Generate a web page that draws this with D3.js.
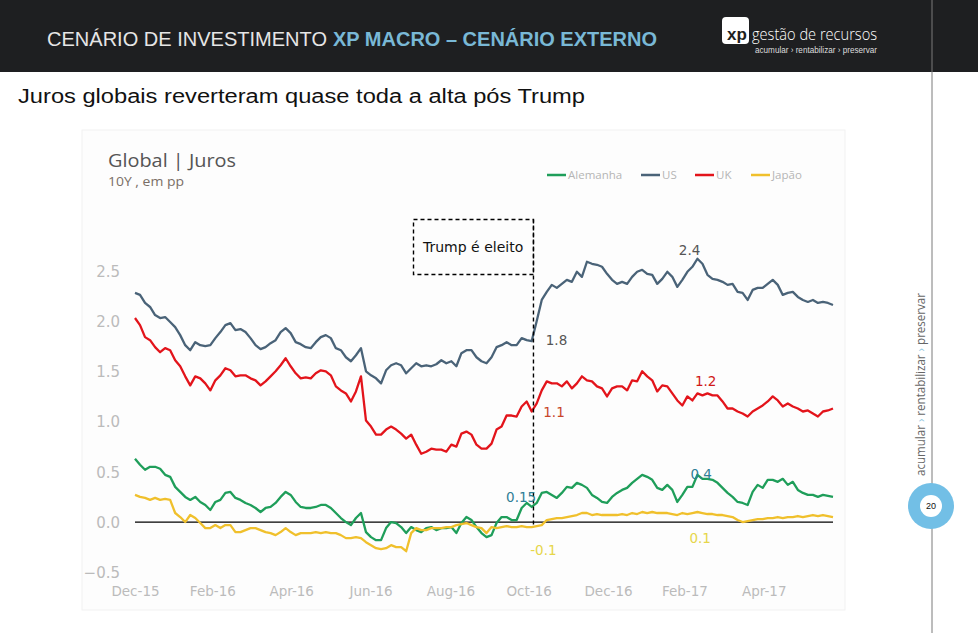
<!DOCTYPE html>
<html>
<head>
<meta charset="utf-8">
<script src="https://cdn.jsdelivr.net/npm/d3@7/dist/d3.min.js"></script>
<style>
  html, body { margin: 0; padding: 0; background: #ffffff; }
  svg { display: block; }
</style>
</head>
<body>
<svg id="chart" width="978" height="633"></svg>
<script>
// ---------------- DATA ----------------
const seriesNames = ["Alemanha", "US", "UK", "Japão"];
const seriesColors = ["#1f9e5a", "#4a6378", "#e3141b", "#f0c02c"];

const us = [2.28,2.26,2.18,2.14,2.06,2.03,2.04,1.99,1.94,1.86,1.76,1.71,1.79,1.76,1.75,1.76,1.83,1.89,1.96,1.98,
  1.91,1.92,1.89,1.83,1.76,1.72,1.74,1.78,1.81,1.89,1.93,1.88,1.79,1.77,1.74,1.73,
  1.79,1.84,1.86,1.83,1.73,1.71,1.64,1.60,1.66,1.73,1.50,1.46,1.43,1.38,1.51,1.56,1.58,1.56,1.48,1.53,1.58,1.55,1.56,1.55,1.57,1.61,1.58,1.60,1.55,1.68,1.71,1.71,1.64,1.60,1.58,
  1.64,1.74,1.76,1.79,1.76,1.76,1.83,1.81,1.80,2.00,2.21,2.29,2.36,2.33,2.37,2.41,2.39,2.49,2.44,2.59,2.57,2.56,2.54,2.47,2.41,2.37,2.39,2.37,2.44,2.49,2.51,2.47,2.46,2.37,2.42,
  2.49,2.44,2.34,2.41,2.49,2.54,2.62,2.57,2.46,2.42,2.41,2.39,2.36,2.37,2.29,2.28,2.21,2.31,2.33,2.33,2.37,2.41,2.36,2.26,2.28,2.29,2.24,2.21,2.19,2.21,2.18,2.19,2.18,2.16];

const uk = [2.03,1.96,1.84,1.81,1.74,1.69,1.73,1.71,1.61,1.55,1.45,1.36,1.45,1.43,1.38,1.31,1.41,1.46,1.53,1.51,
  1.45,1.46,1.46,1.43,1.41,1.36,1.40,1.45,1.50,1.56,1.63,1.55,1.48,1.43,1.44,1.43,
  1.48,1.51,1.50,1.46,1.35,1.31,1.28,1.20,1.30,1.45,1.01,0.95,0.87,0.87,0.92,0.95,0.92,0.88,0.83,0.87,0.77,0.68,0.70,0.73,0.72,0.72,0.70,0.77,0.75,0.88,0.90,0.87,0.77,0.73,0.73,
  0.78,0.92,0.95,1.06,1.06,1.05,1.15,1.20,1.10,1.18,1.31,1.40,1.38,1.38,1.35,1.40,1.33,1.38,1.45,1.41,1.40,1.35,1.33,1.25,1.33,1.35,1.35,1.31,1.41,1.40,1.50,1.45,1.41,1.30,1.36,
  1.35,1.28,1.21,1.16,1.25,1.21,1.28,1.26,1.28,1.26,1.26,1.20,1.13,1.13,1.10,1.08,1.05,1.10,1.13,1.16,1.20,1.25,1.21,1.15,1.18,1.15,1.13,1.10,1.11,1.08,1.05,1.10,1.11,1.13];

const alemanha = [0.63,0.57,0.52,0.55,0.55,0.53,0.47,0.45,0.35,0.30,0.25,0.22,0.25,0.20,0.17,0.12,0.20,0.22,0.29,0.30,
  0.24,0.22,0.19,0.17,0.14,0.10,0.14,0.15,0.19,0.25,0.30,0.27,0.20,0.15,0.14,0.14,
  0.15,0.17,0.17,0.14,0.09,0.04,0.00,-0.03,0.04,0.09,-0.10,-0.15,-0.18,-0.18,-0.06,0.00,-0.01,-0.05,-0.11,-0.05,-0.08,-0.10,-0.06,-0.05,-0.08,-0.06,-0.06,-0.05,-0.11,-0.01,0.05,0.02,-0.05,-0.11,-0.15,
  -0.13,-0.01,0.05,0.05,0.02,0.02,0.14,0.19,0.15,0.19,0.29,0.30,0.27,0.24,0.29,0.35,0.34,0.39,0.37,0.34,0.27,0.24,0.20,0.19,0.25,0.29,0.32,0.34,0.39,0.43,0.47,0.45,0.42,0.34,0.32,
  0.37,0.32,0.20,0.27,0.35,0.35,0.47,0.43,0.43,0.42,0.39,0.34,0.29,0.25,0.20,0.19,0.17,0.30,0.37,0.34,0.42,0.42,0.40,0.43,0.37,0.40,0.32,0.29,0.27,0.27,0.25,0.27,0.26,0.25];

const japao = [0.27,0.25,0.24,0.22,0.24,0.22,0.23,0.22,0.09,0.05,0.00,0.07,0.04,-0.01,-0.06,-0.06,-0.03,-0.06,-0.03,-0.03,
  -0.10,-0.10,-0.08,-0.06,-0.06,-0.08,-0.10,-0.11,-0.13,-0.10,-0.06,-0.10,-0.13,-0.11,-0.11,-0.11,
  -0.10,-0.11,-0.10,-0.11,-0.11,-0.13,-0.16,-0.16,-0.15,-0.16,-0.20,-0.23,-0.26,-0.27,-0.26,-0.23,-0.25,-0.25,-0.29,-0.11,-0.06,-0.08,-0.08,-0.06,-0.06,-0.06,-0.05,-0.05,-0.03,-0.02,-0.01,-0.03,-0.05,-0.06,-0.11,
  -0.05,-0.06,-0.05,-0.04,-0.05,-0.05,-0.04,-0.05,-0.05,-0.04,-0.03,0.02,0.03,0.04,0.04,0.05,0.06,0.07,0.09,0.09,0.07,0.08,0.07,0.07,0.07,0.07,0.08,0.07,0.09,0.08,0.10,0.09,0.10,0.09,0.09,
  0.09,0.08,0.07,0.09,0.08,0.09,0.10,0.09,0.08,0.08,0.07,0.07,0.06,0.05,0.02,0.00,0.01,0.02,0.03,0.03,0.04,0.04,0.05,0.04,0.05,0.05,0.06,0.05,0.06,0.07,0.06,0.07,0.06,0.05];

const yTicks = [-0.5, 0.0, 0.5, 1.0, 1.5, 2.0, 2.5];
const xTickLabels = ["Dec-15","Feb-16","Apr-16","Jun-16","Aug-16","Oct-16","Dec-16","Feb-17","Apr-17"];
const xTickIndex = [0, 15.4, 31.1, 46.9, 62.8, 78.4, 94.2, 109.4, 125.2];
const trumpIndex = 79.35;

// annotations: [text, index, value, color]
const annotations = [
  ["2.4", 108.3, 2.70, "#555555"],
  ["1.8", 81.8, 1.81, "#555555"],
  ["1.2", 111.5, 1.40, "#d01818"],
  ["1.1", 81.3, 1.09, "#c8462a"],
  ["0.4", 110.6, 0.48, "#2f7e96"],
  ["0.15", 73.9, 0.25, "#2f7e96"],
  ["-0.1", 78.7, -0.28, "#e6d64a"],
  ["0.1", 110.4, -0.16, "#e6d64a"]
];

// ---------------- DRAW ----------------
const svg = d3.select("#chart");
const FONT = "'Liberation Sans', Arial, sans-serif";
const DV = "'DejaVu Sans', Verdana, sans-serif";

// header band
svg.append("rect").attr("x", 0).attr("y", 0).attr("width", 978).attr("height", 72).attr("fill", "#1e1f21");
svg.append("text").attr("x", 47).attr("y", 46).attr("font-family", FONT).attr("font-size", 20)
  .attr("fill", "#e6e6e6").attr("textLength", 280).attr("lengthAdjust", "spacingAndGlyphs")
  .text("CENÁRIO DE INVESTIMENTO");
svg.append("text").attr("x", 333).attr("y", 46).attr("font-family", FONT).attr("font-size", 20)
  .attr("font-weight", "bold").attr("fill", "#79b8d6").attr("textLength", 324).attr("lengthAdjust", "spacingAndGlyphs")
  .text("XP MACRO – CENÁRIO EXTERNO");

// logo
svg.append("rect").attr("x", 722).attr("y", 17).attr("width", 27).attr("height", 27).attr("rx", 4).attr("fill", "#ffffff");
svg.append("text").attr("x", 727).attr("y", 40).attr("font-family", FONT).attr("font-size", 17).attr("font-weight", "bold")
  .attr("fill", "#1e1f21").text("xp");
svg.append("text").attr("x", 752).attr("y", 40).attr("font-family", "'Open Sans', sans-serif").attr("font-size", 17)
  .attr("font-weight", 300).attr("fill", "#ffffff").attr("textLength", 125).attr("lengthAdjust", "spacingAndGlyphs")
  .text("gestão de recursos");
svg.append("text").attr("x", 755).attr("y", 53).attr("font-family", FONT).attr("font-size", 9)
  .attr("fill", "#dddddd").attr("textLength", 122).attr("lengthAdjust", "spacingAndGlyphs")
  .text("acumular › rentabilizar › preservar");

// subtitle
svg.append("text").attr("x", 18).attr("y", 103).attr("font-family", FONT).attr("font-size", 20)
  .attr("fill", "#111111").attr("textLength", 567).attr("lengthAdjust", "spacingAndGlyphs")
  .text("Juros globais reverteram quase toda a alta pós Trump");

// chart panel
svg.append("rect").attr("x", 82).attr("y", 130).attr("width", 763).attr("height", 480)
  .attr("fill", "#fdfdfd").attr("stroke", "#f1f1f1");

svg.append("text").attr("x", 108).attr("y", 167).attr("font-family", "'Open Sans', sans-serif").attr("font-size", 18)
  .attr("fill", "#555555").attr("textLength", 128).attr("lengthAdjust", "spacingAndGlyphs").text("Global | Juros");
svg.append("text").attr("x", 108).attr("y", 186).attr("font-family", "'Open Sans', sans-serif").attr("font-size", 13)
  .attr("fill", "#7a6f66").attr("textLength", 76).attr("lengthAdjust", "spacingAndGlyphs").text("10Y , em pp");

// scales
const x = d3.scaleLinear().domain([0, us.length - 1]).range([135, 833]);
const y = d3.scaleLinear().domain([-0.5, 2.5]).range([572.3, 270.8]);

// y axis labels
const yAxis = d3.axisLeft(y).tickValues(yTicks).tickFormat(d3.format(".1f")).tickSize(0).tickPadding(0);
const gy = svg.append("g").attr("transform", "translate(120,0)").call(yAxis);
gy.select(".domain").remove();
gy.selectAll("text").attr("font-family", DV).attr("font-size", 15).attr("fill", "#bbbbbb").attr("dy", "0.35em");

// x axis labels
const xAxis = d3.axisBottom(x).tickValues(xTickIndex).tickFormat((d, i) => xTickLabels[i]).tickSize(0).tickPadding(0);
const gx = svg.append("g").attr("transform", "translate(0,586)").call(xAxis);
gx.select(".domain").remove();
gx.selectAll("text").attr("font-family", DV).attr("font-size", 13.5).attr("fill", "#bbbbbb").attr("dy", "0.75em");

// zero line
svg.append("line").attr("x1", x(0)).attr("x2", x(us.length - 1)).attr("y1", y(0)).attr("y2", y(0))
  .attr("stroke", "#000000").attr("stroke-width", 1.2);

// series lines
const line = d3.line().x((d, i) => x(i)).y(d => y(d));
const allSeries = [alemanha, us, uk, japao];
const drawOrder = [1, 2, 0, 3];
drawOrder.forEach(k => {
  svg.append("path").datum(allSeries[k]).attr("d", line).attr("fill", "none")
    .attr("stroke", seriesColors[k]).attr("stroke-width", 2.3).attr("stroke-linejoin", "round");
});

// Trump annotation
const tx = x(trumpIndex);
svg.append("rect").attr("x", 413.5).attr("y", 219.5).attr("width", tx - 413.5).attr("height", 55)
  .attr("fill", "none").attr("stroke", "#000").attr("stroke-width", 1.4).attr("stroke-dasharray", "4,3");
svg.append("line").attr("x1", tx).attr("x2", tx).attr("y1", 219.5).attr("y2", y(-0.04))
  .attr("stroke", "#000").attr("stroke-width", 1.4).attr("stroke-dasharray", "4,3");
svg.append("text").attr("x", 423).attr("y", 252).attr("font-family", DV).attr("font-size", 14)
  .attr("fill", "#111").text("Trump é eleito");

// value annotations
annotations.forEach(a => {
  svg.append("text").attr("x", x(a[1])).attr("y", y(a[2])).attr("dy", "0.35em")
    .attr("font-family", DV).attr("font-size", 13.5).attr("fill", a[3]).text(a[0]);
});

// legend
const legendX = [547, 641, 695, 751];
seriesNames.forEach((n, k) => {
  svg.append("line").attr("x1", legendX[k]).attr("x2", legendX[k] + 19).attr("y1", 175).attr("y2", 175)
    .attr("stroke", seriesColors[k]).attr("stroke-width", 2.5);
  svg.append("text").attr("x", legendX[k] + 21).attr("y", 175).attr("dy", "0.35em")
    .attr("font-family", "'Open Sans', sans-serif").attr("font-size", 11.5).attr("fill", "#b5b5b5").text(n);
});

// right side decoration
svg.append("line").attr("x1", 932).attr("x2", 932).attr("y1", 0).attr("y2", 633).attr("stroke", "#7a7a7a").attr("stroke-width", 1);
const side = svg.append("text").attr("transform", "translate(925,476) rotate(-90)")
  .attr("font-family", "'Open Sans', sans-serif").attr("font-size", 13).attr("fill", "#666666")
  .attr("textLength", 183).attr("lengthAdjust", "spacingAndGlyphs");
side.append("tspan").text("acumular ");
side.append("tspan").attr("fill", "#8cc6e0").text("›");
side.append("tspan").text(" rentabilizar ");
side.append("tspan").attr("fill", "#8cc6e0").text("›");
side.append("tspan").text(" preservar");

svg.append("circle").attr("cx", 931).attr("cy", 506).attr("r", 23).attr("fill", "#72bfe6");
svg.append("circle").attr("cx", 931).attr("cy", 506).attr("r", 11).attr("fill", "#ffffff");
svg.append("text").attr("x", 931).attr("y", 506).attr("dy", "0.35em").attr("text-anchor", "middle")
  .attr("font-family", FONT).attr("font-size", 9).attr("fill", "#111").text("20");
</script>
</body>
</html>
